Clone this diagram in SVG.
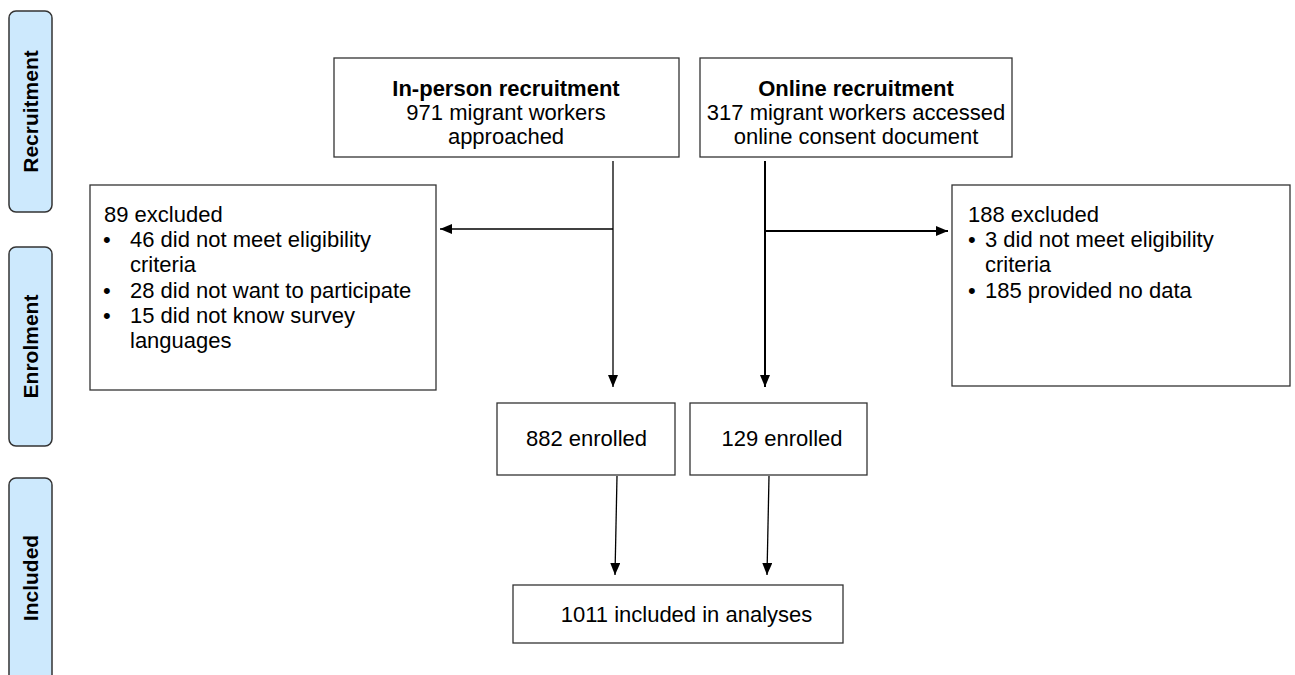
<svg xmlns="http://www.w3.org/2000/svg" width="1295" height="675" viewBox="0 0 1295 675">
<style>
.lane{fill:#cde9fd;stroke:#333;stroke-width:1.5}
.lt{font-family:"Liberation Sans",Arial,sans-serif;font-weight:bold;font-size:21px;fill:#000;text-anchor:middle}
.box{fill:#fff;stroke:#333;stroke-width:1.3}
.t{font-family:"Liberation Sans",Arial,sans-serif;font-size:22px;fill:#000}
.c{text-anchor:middle}
.b{font-weight:bold}
.ln{stroke:#000;stroke-width:1.3;fill:none}
.ln2{stroke:#000;stroke-width:2;fill:none}
</style>
<defs>
<marker id="ah" markerUnits="userSpaceOnUse" markerWidth="12" markerHeight="10" refX="12" refY="5" orient="auto">
<path d="M0,0 L12,5 L0,10 z" fill="#000"/>
</marker>
</defs>
<g id="lane-recruitment">
<rect class="lane" x="9" y="11" width="43" height="201" rx="7"/>
<text class="lt" transform="translate(38,111.5) rotate(-90)">Recruitment</text>
</g>
<g id="lane-enrolment">
<rect class="lane" x="9" y="247" width="43" height="199" rx="7"/>
<text class="lt" transform="translate(38,346.5) rotate(-90)">Enrolment</text>
</g>
<g id="lane-included">
<rect class="lane" x="9" y="478" width="43" height="205" rx="7"/>
<text class="lt" transform="translate(38,578) rotate(-90)">Included</text>
</g>
<g id="inperson">
<rect class="box" x="334" y="58" width="345" height="99"/>
<text class="t c b" x="506" y="96">In-person recruitment</text>
<text class="t c" x="506" y="120">971 migrant workers</text>
<text class="t c" x="506" y="144">approached</text>
</g>
<g id="online">
<rect class="box" x="700" y="58" width="312" height="99"/>
<text class="t c b" x="856" y="96">Online recruitment</text>
<text class="t c" x="856" y="120">317 migrant workers accessed</text>
<text class="t c" x="856" y="144">online consent document</text>
</g>
<g id="excluded-inperson">
<rect class="box" x="90" y="185" width="346" height="205"/>
<text class="t" x="104" y="222">89 excluded</text>
<text class="t" x="103" y="247">•</text>
<text class="t" x="130" y="247">46 did not meet eligibility</text>
<text class="t" x="130" y="272">criteria</text>
<text class="t" x="103" y="297.5">•</text>
<text class="t" x="130" y="297.5">28 did not want to participate</text>
<text class="t" x="103" y="322.5">•</text>
<text class="t" x="130" y="322.5">15 did not know survey</text>
<text class="t" x="130" y="347.5">languages</text>
</g>
<g id="excluded-online">
<rect class="box" x="952" y="185" width="338" height="201"/>
<text class="t" x="968" y="222">188 excluded</text>
<text class="t" x="968" y="247">•</text>
<text class="t" x="985" y="247">3 did not meet eligibility</text>
<text class="t" x="985" y="272">criteria</text>
<text class="t" x="968" y="297.5">•</text>
<text class="t" x="985" y="297.5">185 provided no data</text>
</g>
<g id="enrolled-inperson">
<rect class="box" x="497" y="403" width="178" height="72"/>
<text class="t c" x="586.5" y="446">882 enrolled</text>
</g>
<g id="enrolled-online">
<rect class="box" x="690" y="403" width="177" height="72"/>
<text class="t c" x="782" y="446">129 enrolled</text>
</g>
<g id="included">
<rect class="box" x="513" y="585" width="330" height="58"/>
<text class="t c" x="686.5" y="622">1011 included in analyses</text>
</g>
<g id="connectors">
<line class="ln" x1="613" y1="161" x2="613" y2="387" marker-end="url(#ah)"/>
<line class="ln" x1="613" y1="229" x2="440" y2="229" marker-end="url(#ah)"/>
<line class="ln2" x1="765" y1="161" x2="765" y2="387" marker-end="url(#ah)"/>
<line class="ln2" x1="765" y1="231" x2="948" y2="231" marker-end="url(#ah)"/>
<line class="ln" x1="617" y1="476" x2="615" y2="575" marker-end="url(#ah)"/>
<line class="ln" x1="769" y1="476" x2="767" y2="575" marker-end="url(#ah)"/>
</g>
</svg>
